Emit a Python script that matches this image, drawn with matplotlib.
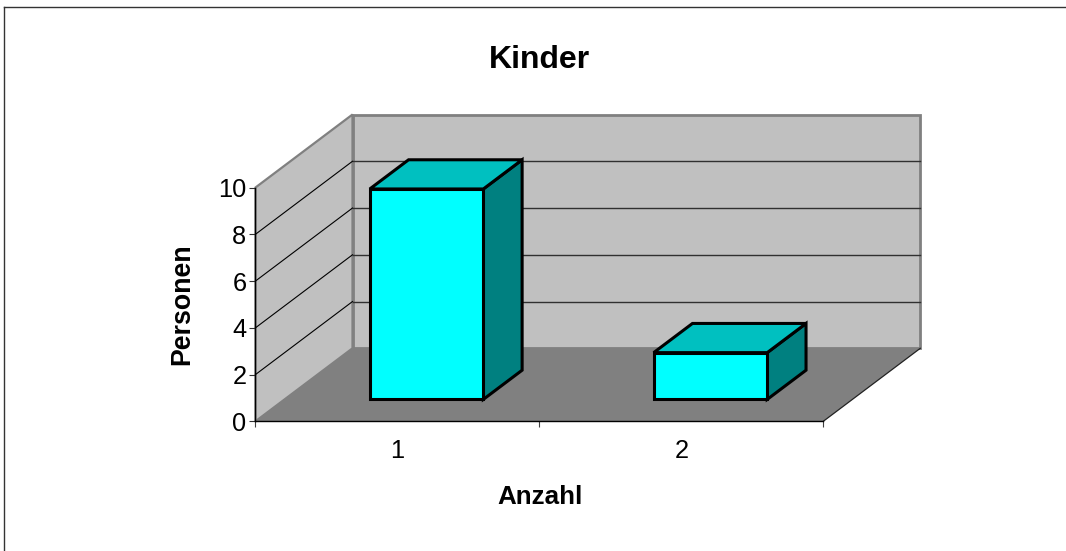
import matplotlib
matplotlib.use("Agg")
import matplotlib.pyplot as plt
from matplotlib.lines import Line2D
from matplotlib.patches import Polygon

plt.rcParams['font.family'] = ['Liberation Sans', 'DejaVu Sans']

title = "Kinder"
x_label = "Anzahl"
y_label = "Personen"
categories = ["1", "2"]
values = [9, 2]
y_ticks = [0, 2, 4, 6, 8, 10]

W, H = 1066, 551
fig = plt.figure(figsize=(W / 100, H / 100), dpi=100, facecolor="white")

# front plane of the 3D box, in pixels
L, R, BOT, TOP = 255.5, 823.3, 421.3, 187.5
ax = fig.add_axes([L / W, 1 - BOT / H, (R - L) / W, (BOT - TOP) / H])
ax.set_xlim(0, len(categories))
ax.set_ylim(0, max(y_ticks))
ax.patch.set_visible(False)

# depth vector, expressed in data units
DX = 97 / ((R - L) / len(categories))
DY = 73 / ((BOT - TOP) / max(y_ticks))


def proj(x, y, d=0.0):
    return (x + DX * d, y + DY * d)


def face(points, fc, ec, lw, z):
    ax.add_patch(Polygon([proj(*p) for p in points], closed=True, fc=fc, ec=ec,
                         lw=lw, zorder=z, clip_on=False, joinstyle="miter"))


n = len(categories)
ymax = max(y_ticks)
WALL, FLOOR, EDGE = "#c0c0c0", "#808080", "#808080"

# walls and floor
face([(0, 0, 1), (n, 0, 1), (n, ymax, 1), (0, ymax, 1)], WALL, EDGE, 2.0, 1)
face([(0, 0, 0), (0, 0, 1), (0, ymax, 1), (0, ymax, 0)], WALL, EDGE, 1.6, 1.1)
face([(0, 0, 0), (n, 0, 0), (n, 0, 1), (0, 0, 1)], FLOOR, "none", 0, 1.2)
ax.plot(*zip(proj(n, 0, 0), proj(n, 0, 1)), color="#222222", lw=0.9, zorder=1.3, clip_on=False)

# gridlines (none at the top of the box, whose edge stays grey)
for t in y_ticks[1:-1]:
    ax.plot(*zip(proj(0, t, 1), proj(n, t, 1)), color="#303030", lw=1.0, zorder=1.5, clip_on=False)
    ax.plot(*zip(proj(0, t, 0), proj(0, t, 1)), color="black", lw=0.8, zorder=1.5, clip_on=False)

# bars
BW, D0, D1 = 0.40, 0.30, 0.70
for i, v in enumerate(values):
    x0, x1 = i + 0.5 - BW / 2, i + 0.5 + BW / 2
    face([(x1, 0, D0), (x1, 0, D1), (x1, v, D1), (x1, v, D0)], "#008080", "black", 2.2, 3)
    face([(x0, v, D0), (x1, v, D0), (x1, v, D1), (x0, v, D1)], "#00c0c0", "black", 2.2, 3.1)
    face([(x0, 0, D0), (x1, 0, D0), (x1, v, D0), (x0, v, D0)], "#00ffff", "black", 2.2, 3.2)

# axes, ticks and labels
for s in ("top", "right"):
    ax.spines[s].set_visible(False)
for s in ("left", "bottom"):
    ax.spines[s].set_linewidth(1.0)
    ax.spines[s].set_color("black")
    ax.spines[s].set_zorder(2)

ax.set_yticks(y_ticks)
ax.set_yticklabels([str(t) for t in y_ticks], fontsize=18.3)
ax.tick_params(axis="y", length=4.5, width=0.8, pad=2, color="#303030")
ax.set_xticks(range(n + 1))
ax.set_xticklabels([""] * (n + 1))
ax.tick_params(axis="x", which="major", length=4.5, width=0.8, color="#404040")
ax.set_xticks([i + 0.5 for i in range(n)], minor=True)
ax.set_xticklabels(categories, minor=True, fontsize=18.3)
ax.tick_params(axis="x", which="minor", length=0, pad=13)

ax.text(0.5, (BOT - 59.5) / (BOT - TOP), title, transform=ax.transAxes, ha="center", va="center",
        fontsize=23, fontweight="bold")
ax.set_xlabel(x_label, fontsize=18.7, fontweight="bold")
ax.xaxis.set_label_coords((540 - L) / (R - L), (BOT - 496.5) / (BOT - TOP))
ax.xaxis.label.set_va("center")
ax.set_ylabel(y_label, fontsize=19.3, fontweight="bold")
ax.yaxis.set_label_coords((182 - L) / (R - L), (BOT - 304.5) / (BOT - TOP))
ax.yaxis.label.set_va("center")

# chart-area border: only its left and top edges fall inside the picture
bx, by = 3.5 / W, 1 - 6.5 / H
fig.add_artist(Line2D([bx, bx], [0, by], color="#333333", lw=1.0))
fig.add_artist(Line2D([bx, 1], [by, by], color="#333333", lw=1.0))

fig.savefig("out.png", dpi=100)
